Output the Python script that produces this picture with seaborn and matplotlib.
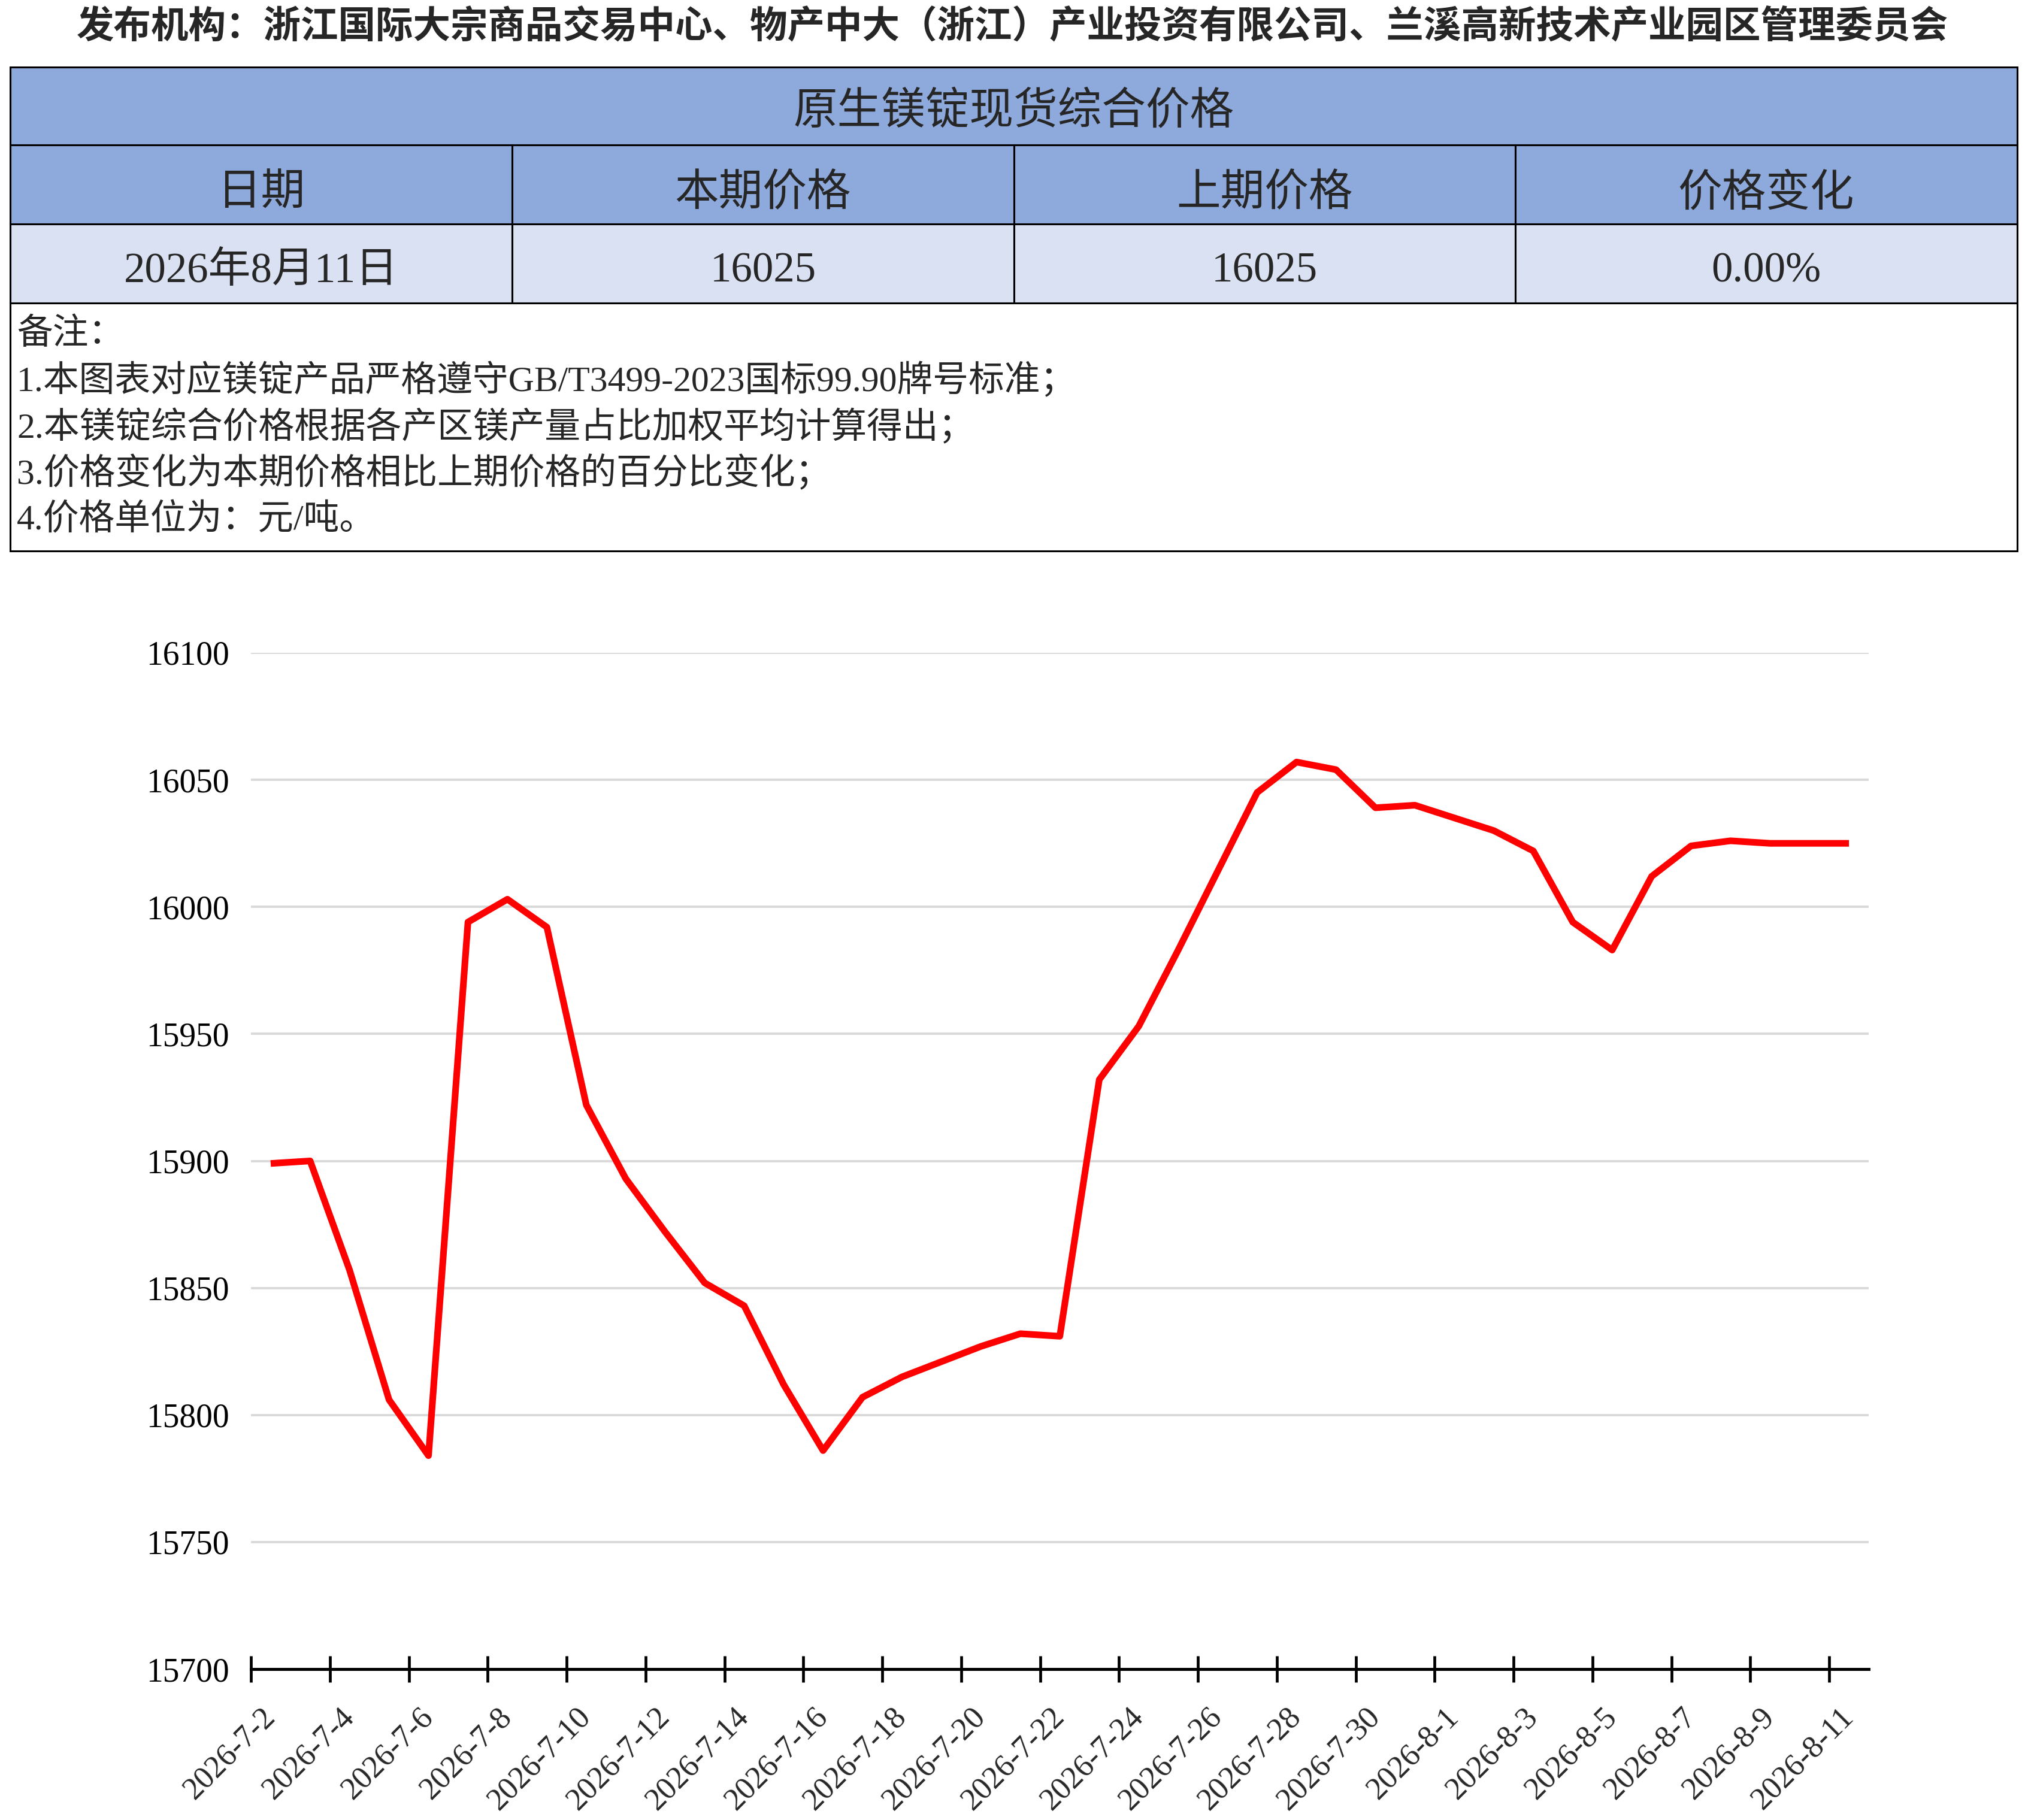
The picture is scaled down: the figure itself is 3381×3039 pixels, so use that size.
import pandas as pd
import seaborn as sns
import matplotlib.pyplot as plt
from matplotlib.patches import Rectangle

# === Data ===
dates = pd.date_range("2026-07-02", "2026-08-11", freq="D")
prices = [15899, 15900, 15857, 15806, 15784, 15994, 16003, 15992, 15922, 15893,
          15872, 15852, 15843, 15812, 15786, 15807, 15815, 15821, 15827, 15832,
          15831, 15932, 15953, 15983, 16014, 16045, 16057, 16054, 16039, 16040,
          16035, 16030, 16022, 15994, 15983, 16012, 16024, 16026, 16025, 16025,
          16025]

publisher = "发布机构：浙江国际大宗商品交易中心、物产中大（浙江）产业投资有限公司、兰溪高新技术产业园区管理委员会"
table_title = "原生镁锭现货综合价格"
col_headers = ["日期", "本期价格", "上期价格", "价格变化"]
row_values = ["2026年8月11日", "16025", "16025", "0.00%"]
notes = [
    "备注：",
    "1.本图表对应镁锭产品严格遵守GB/T3499-2023国标99.90牌号标准；",
    "2.本镁锭综合价格根据各产区镁产量占比加权平均计算得出；",
    "3.价格变化为本期价格相比上期价格的百分比变化；",
    "4.价格单位为：元/吨。",
]

df = pd.DataFrame({"date": dates, "price": prices})

sns.set_theme(style="white")
plt.rcParams["font.family"] = ["Liberation Serif", "Noto Sans CJK SC"]

W, H = 3381, 3039
fig = plt.figure(figsize=(W / 100, H / 100), dpi=100)

# === Header table drawn in pixel coordinates ===
tax = fig.add_axes([0, 0, 1, 1])
tax.set_xlim(0, W)
tax.set_ylim(H, 0)
tax.axis("off")

left, right = 17, 3368
rows = [112, 242, 374, 506, 920]
cols = [left, 855, 1693, 2530, right]
head_blue = "#8EA9DB"
light_blue = "#D9E1F2"
edge = dict(edgecolor="black", linewidth=2.2)

tax.add_patch(Rectangle((left, rows[0]), right - left, rows[1] - rows[0], facecolor=head_blue, **edge))
for i in range(4):
    tax.add_patch(Rectangle((cols[i], rows[1]), cols[i + 1] - cols[i], rows[2] - rows[1],
                            facecolor=head_blue, **edge))
    tax.add_patch(Rectangle((cols[i], rows[2]), cols[i + 1] - cols[i], rows[3] - rows[2],
                            facecolor=light_blue, **edge))
tax.add_patch(Rectangle((left, rows[3]), right - left, rows[4] - rows[3], facecolor="white", **edge))

tax.text(W / 2, 47, publisher, ha="center", va="center", fontsize=45, fontweight="bold")
tax.text((left + right) / 2, (rows[0] + rows[1]) / 2 + 12, table_title, ha="center", va="center", fontsize=53)
for i in range(4):
    cx = (cols[i] + cols[i + 1]) / 2
    tax.text(cx, (rows[1] + rows[2]) / 2 + 17, col_headers[i], ha="center", va="center", fontsize=53)
    tax.text(cx, (rows[2] + rows[3]) / 2 + 13, row_values[i], ha="center", va="center", fontsize=51)
for k, line in enumerate(notes):
    tax.text(28, 559 + k * 77.5, line, ha="left", va="center", fontsize=43)

# === Price line chart ===
ax = fig.add_axes([419 / W, 1 - 2787 / H, (3120 - 419) / W, (2787 - 1090) / H])
sns.lineplot(data=df, x="date", y="price", color="#ff0000", linewidth=8, ax=ax,
             solid_joinstyle="round", solid_capstyle="butt")

half = pd.Timedelta(hours=12)
ax.set_xlim(dates[0] - half, dates[-1] + half)
ax.set_ylim(15700, 16100)
ax.set_yticks(range(15700, 16101, 50))
ax.set_xlabel("")
ax.set_ylabel("")

ax.set_xticks(dates[::2] - half)
ax.set_xticklabels([])
ax.set_xticks(dates[::2], minor=True)
ax.set_xticklabels([f"{d.year}-{d.month}-{d.day}" for d in dates[::2]], minor=True)
ax.tick_params(axis="x", which="major", direction="inout", length=31, width=3.4,
               color="black", bottom=True)
ax.tick_params(axis="x", which="minor", length=0, pad=52, labelsize=38, bottom=True)
for lab in ax.get_xticklabels(minor=True):
    lab.set_rotation(45)
    lab.set_ha("right")
    lab.set_va("center")
    lab.set_rotation_mode("anchor")
ax.tick_params(axis="y", length=0, pad=26, labelsize=40, labelcolor="black")

ax.yaxis.grid(True, color="#d9d9d9", linewidth=2.8)
ax.xaxis.grid(False)
ax.set_axisbelow(True)
for side in ["left", "right", "top"]:
    ax.spines[side].set_visible(False)
ax.spines["bottom"].set_color("black")
ax.spines["bottom"].set_linewidth(3.6)
ax.set_facecolor("none")

fig.savefig("out.png", dpi=100)
plt.close()
